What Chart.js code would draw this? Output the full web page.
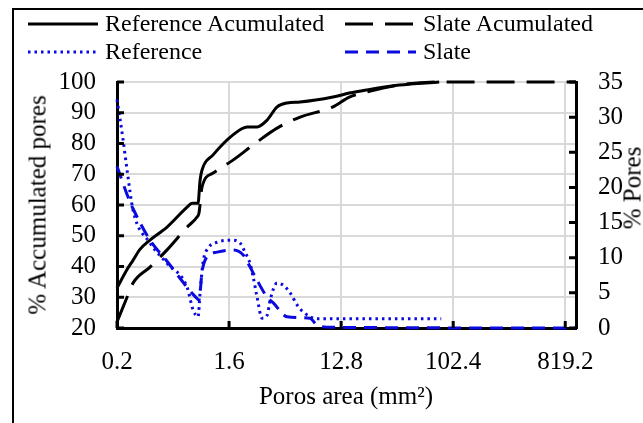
<!DOCTYPE html>
<html><head><meta charset="utf-8">
<script src="https://cdn.jsdelivr.net/npm/chart.js@4"></script>
<style>
html,body{margin:0;padding:0;background:#fff;}
#wrap{position:relative;width:643px;height:423px;overflow:hidden;background:#fff;font-family:'Liberation Serif','Times New Roman',serif;color:#000;}
#frame{position:absolute;left:12px;top:8px;width:700px;height:500px;border:2px solid #000;box-sizing:border-box;}
#c{position:absolute;left:0;top:0;}
.lg{position:absolute;font-size:24px;line-height:24px;white-space:nowrap;}
.sw{position:absolute;}
.ttl{position:absolute;font-size:25px;white-space:nowrap;line-height:1;}
</style></head>
<body>
<div id="wrap">
<div id="frame"></div>
<canvas id="c" width="643" height="423"></canvas>
<div id="legend"></div>
<div class="ttl" style="left:37px;top:205px;transform:translate(-50%,-50%) rotate(-90deg);">% Accumulated pores</div>
<div class="ttl" style="left:632px;top:188px;transform:translate(-50%,-50%) rotate(-90deg);">% Pores</div>
<div class="ttl" style="left:346px;top:395px;transform:translate(-50%,-50%);">Poros area (mm²)</div>
</div>
<script>
// ---- data (x = pore area in mm²) ----
const xTickValues = [0.2, 1.6, 12.8, 102.4, 819.2];
const xTickLabels = ['0.2', '1.6', '12.8', '102.4', '819.2'];

const refAccX = [0.2, 0.241, 0.269, 0.305, 0.369, 0.506, 0.734, 0.805, 0.9, 0.934, 0.969, 1.19, 1.72, 2.24, 2.69, 3.24, 3.9, 4.7, 5.98, 11, 14.9, 20.4, 37.6, 79];
const refAccY = [33, 39, 42, 45.5, 48.6, 52.8, 59.3, 60.6, 60.6, 68, 71.4, 76.3, 82.8, 85.4, 85.4, 87.6, 91.9, 93.2, 93.5, 95.1, 96.4, 97.4, 99, 100];

const slateAccX = [0.2, 0.241, 0.269, 0.369, 0.506, 0.734, 0.883, 0.916, 0.969, 1.19, 1.72, 2.69, 3.9, 5.98, 11, 14.9, 20.4, 37.6, 83.5, 1000];
const slateAccY = [22, 30, 34.6, 39.8, 45.4, 52.8, 56.1, 57.4, 65.9, 70.4, 74.6, 80.5, 85, 88.6, 91.9, 95.1, 96.7, 99, 100, 100];

const refX = [0.2, 0.223, 0.241, 0.269, 0.369, 0.506, 0.734, 0.82, 0.9, 0.934, 0.988, 1.09, 1.28, 1.69, 1.96, 2.15, 2.36, 2.5, 2.69, 2.95, 3.24, 3.43, 3.9, 4.36, 4.97, 5.65, 6.32, 8.19, 11.8, 82];
const refY = [32.5, 27, 22.5, 16.8, 12.1, 9.2, 5.8, 2.6, 1.6, 5, 9.4, 11.4, 12.2, 12.5, 12.1, 10.8, 9.2, 7.3, 4.4, 1.4, 1.8, 4, 6.4, 6.1, 5, 3.3, 2.3, 1.3, 1.3, 1.3];

const slateX = [0.2, 0.241, 0.269, 0.369, 0.506, 0.734, 0.85, 0.916, 0.969, 1.06, 1.28, 1.72, 2.08, 2.36, 2.69, 3.24, 3.62, 4.7, 7.19, 8.19, 11, 1000];
const slateY = [23, 19, 17, 12.5, 9.5, 5.8, 4.5, 4, 8, 10.1, 10.8, 11.1, 10.4, 8.7, 6.8, 4.4, 3.6, 1.6, 1.4, 0.4, 0.1, 0];

const seriesNames = ['Reference Acumulated', 'Slate Acumulated', 'Reference', 'Slate'];

// ---- styles ----
const BLUE = '#0a0ae0';
const FONT = "'Liberation Serif','Times New Roman',serif";
const pts = (xs, ys) => xs.map((x, i) => ({x: x, y: ys[i]}));

const datasets = [
  {label: seriesNames[0], data: pts(refAccX, refAccY), yAxisID: 'y', borderColor: '#000', borderWidth: 3, borderDash: []},
  {label: seriesNames[1], data: pts(slateAccX, slateAccY), yAxisID: 'y', borderColor: '#000', borderWidth: 3, borderDash: [28, 12]},
  {label: seriesNames[2], data: pts(refX, refY), yAxisID: 'y1', borderColor: BLUE, borderWidth: 3, borderDash: [2.5, 4]},
  {label: seriesNames[3], data: pts(slateX, slateY), yAxisID: 'y1', borderColor: BLUE, borderWidth: 3, borderDash: [13, 8]}
].map(d => Object.assign(d, {pointRadius: 0, fill: false, cubicInterpolationMode: 'monotone', clip: 3}));

// ---- HTML legend (2 x 2) ----
const legendPos = [[28, 24, 70, 105], [345, 24, 71, 423], [28, 52, 70, 105], [345, 52, 71, 423]];
const lg = document.getElementById('legend');
datasets.forEach((d, i) => {
  const [lx, ly, lw, tx] = legendPos[i];
  const dash = d.borderDash.length ? d.borderDash.join(',') : 'none';
  lg.insertAdjacentHTML('beforeend',
    `<svg class="sw" style="left:${lx}px;top:${ly-5}px" width="${lw}" height="10"><line x1="0" y1="5" x2="${lw}" y2="5" stroke="${d.borderColor}" stroke-width="3" stroke-dasharray="${dash}"/></svg>` +
    `<div class="lg" style="left:${tx}px;top:${ly-13}px">${d.label}</div>`);
});

// ---- inner tick marks ----
const innerTicks = {
  id: 'innerTicks',
  afterDraw(chart) {
    const ctx = chart.ctx, a = chart.chartArea;
    ctx.save();
    ctx.strokeStyle = '#000';
    ctx.lineWidth = 3;
    ctx.beginPath();
    chart.scales.y.ticks.forEach(t => { const p = chart.scales.y.getPixelForValue(t.value); ctx.moveTo(a.left, p); ctx.lineTo(a.left + 7, p); });
    chart.scales.y1.ticks.forEach(t => { const p = chart.scales.y1.getPixelForValue(t.value); ctx.moveTo(a.right, p); ctx.lineTo(a.right - 7, p); });
    chart.scales.x.ticks.forEach(t => { const p = chart.scales.x.getPixelForValue(t.value); ctx.moveTo(p, a.bottom); ctx.lineTo(p, a.bottom - 7); });
    ctx.stroke();
    ctx.restore();
  }
};

const tickFont = {family: FONT, size: 25};
const gridCfg = {color: '#d9d9d9', lineWidth: 2, drawTicks: false};
const borderCfg = {display: true, color: '#000', width: 3};

new Chart(document.getElementById('c'), {
  type: 'line',
  data: {datasets: datasets},
  options: {
    responsive: false,
    animation: false,
    layout: {padding: {top: 82, left: 0, right: 0, bottom: 0}},
    plugins: {legend: {display: false}, tooltip: {enabled: false}, title: {display: false}},
    scales: {
      x: {
        type: 'logarithmic', min: 0.2, max: 1000,
        afterBuildTicks: s => { s.ticks = xTickValues.map(v => ({value: v})); },
        afterFit: s => { s.height = 95; },
        ticks: {font: tickFont, color: '#000', padding: 19, maxRotation: 0, autoSkip: false,
                callback: (v, i) => xTickLabels[i]},
        grid: gridCfg, border: borderCfg
      },
      y: {
        type: 'linear', position: 'left', min: 20, max: 100,
        afterFit: s => { s.width = 117; },
        ticks: {stepSize: 10, autoSkip: false, font: tickFont, color: '#000', padding: 21},
        grid: gridCfg, border: borderCfg
      },
      y1: {
        type: 'linear', position: 'right', min: 0, max: 35,
        afterFit: s => { s.width = 67; },
        ticks: {stepSize: 5, autoSkip: false, font: tickFont, color: '#000', padding: 22},
        grid: {drawOnChartArea: false, drawTicks: false}, border: borderCfg
      }
    }
  },
  plugins: [innerTicks]
});
</script>
</body></html>
